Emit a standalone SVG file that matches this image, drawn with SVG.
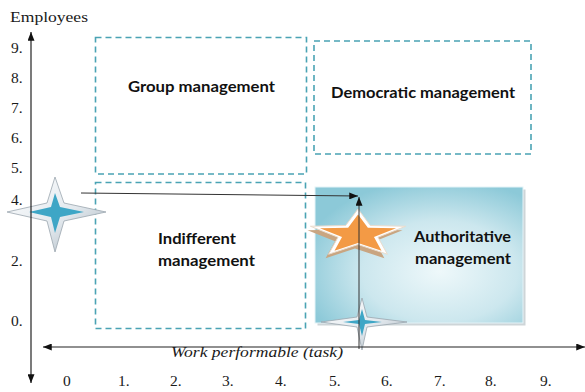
<svg xmlns="http://www.w3.org/2000/svg" width="585" height="392" viewBox="0 0 585 392">
<style>
.dash{fill:none;stroke:#4aa3b4;stroke-width:1.6;stroke-dasharray:6 4}
.lbl{font-family:Lato,"Open Sans","Liberation Sans",sans-serif;font-weight:700;font-size:15px;fill:#111}
.num{font-family:"Liberation Serif","Times New Roman",serif;font-size:15.5px;fill:#1a1a1a}
.ax{stroke:#222;stroke-width:1.2;fill:none}
.con{stroke:#333;stroke-width:1;fill:none}
</style>
<defs>
<marker id="ah" viewBox="0 0 10 8" refX="10" refY="4" markerWidth="9" markerHeight="7" markerUnits="userSpaceOnUse" orient="auto">
<path d="M0,0 L10,4 L0,8 z" fill="#111"/>
</marker>
<marker id="ahs" viewBox="0 0 10 8" refX="10" refY="4" markerWidth="9" markerHeight="7" markerUnits="userSpaceOnUse" orient="auto-start-reverse">
<path d="M0,0 L10,4 L0,8 z" fill="#111"/>
</marker>
<radialGradient id="authG" cx="0.6" cy="0.62" r="0.68">
<stop offset="0" stop-color="#eef8fa"/>
<stop offset="0.55" stop-color="#cce7ee"/>
<stop offset="1" stop-color="#8cc9d8"/>
</radialGradient>
<linearGradient id="starG" x1="0" y1="0" x2="1" y2="1">
<stop offset="0" stop-color="#ffffff"/>
<stop offset="0.55" stop-color="#e3e9ee"/>
<stop offset="1" stop-color="#a3b0ba"/>
</linearGradient>
<polygon id="pent" points="0,-25 12.35,-8.49 47.55,-7.73 19.97,3.24 29.4,20.23 0,10.5 -29.4,20.23 -19.97,3.24 -47.55,-7.73 -12.35,-8.49"/>
</defs>

<g id="group-management">
<rect class="dash" x="95.5" y="37.5" width="211" height="136.5"/>
<text class="lbl" x="128" y="92" textLength="147" lengthAdjust="spacingAndGlyphs">Group management</text>
</g>
<g id="democratic-management">
<rect class="dash" x="314" y="41" width="217" height="113"/>
<text class="lbl" x="331" y="98" textLength="184" lengthAdjust="spacingAndGlyphs">Democratic management</text>
</g>
<g id="indifferent-management">
<rect class="dash" x="95.5" y="182.5" width="210" height="146"/>
<text class="lbl" x="158" y="244" textLength="78" lengthAdjust="spacingAndGlyphs">Indifferent</text>
<text class="lbl" x="158" y="266" textLength="97" lengthAdjust="spacingAndGlyphs">management</text>
</g>
<g id="authoritative-management">
<rect x="317.5" y="189.5" width="208" height="136" fill="#b9c3c8" opacity="0.7"/>
<rect x="315" y="187" width="208" height="136" fill="url(#authG)" stroke="#e4f3f7" stroke-width="1"/>
<text class="lbl" x="414" y="242" textLength="97" lengthAdjust="spacingAndGlyphs">Authoritative</text>
<text class="lbl" x="415" y="264" textLength="96" lengthAdjust="spacingAndGlyphs">management</text>
</g>

<g id="star-left">
<path d="M7,212 L47,203 L55,177 L64,203 L106,212 L64,221 L55,252 L47,221 Z" fill="url(#starG)" stroke="#9aa6ae" stroke-width="0.8"/>
<path d="M29,212 L51,207 L55,193 L60,207 L84,212 L60,217 L55,233 L51,217 Z" fill="#3ea6c6"/>
</g>
<g id="star-bottom">
<path d="M321,322 L357,317 L362,298 L367,317 L407,322 L367,327 L362,350 L357,327 Z" fill="url(#starG)" stroke="#9aa6ae" stroke-width="0.8"/>
<path d="M343,322 L359,320 L362,309 L365,320 L382,322 L365,324 L362,336 L359,324 Z" fill="#3ea6c6"/>
</g>
<g id="star-orange">
<use href="#pent" transform="translate(355,238)" fill="#c9a581"/>
<use href="#pent" transform="translate(358,234)" fill="#ffffff" stroke="#eadccd" stroke-width="1"/>
<use href="#pent" transform="translate(358,234.5) scale(0.8)" fill="#f39a45"/>
</g>

<g id="connectors">
<path class="con" d="M81,193 L358,196" marker-end="url(#ah)"/>
<path class="con" d="M359,349 L359,197" marker-end="url(#ah)"/>
</g>

<g id="axes">
<path class="ax" d="M31,32 L31,383" marker-start="url(#ahs)" marker-end="url(#ah)"/>
<path class="ax" d="M43,347 L585,347" marker-start="url(#ahs)" marker-end="url(#ah)"/>
<text class="num" x="10" y="22" textLength="78" lengthAdjust="spacingAndGlyphs">Employees</text>
<text class="num" x="171" y="357" font-style="italic" textLength="172" lengthAdjust="spacingAndGlyphs">Work performable (task)</text>
<text class="num" x="11" y="53">9.</text>
<text class="num" x="11" y="83">8.</text>
<text class="num" x="11" y="113">7.</text>
<text class="num" x="11" y="143">6.</text>
<text class="num" x="11" y="173">5.</text>
<text class="num" x="11" y="205">4.</text>
<text class="num" x="11" y="266">2.</text>
<text class="num" x="11" y="326">0.</text>
<text class="num" x="63" y="386">0</text>
<text class="num" x="118" y="386">1.</text>
<text class="num" x="170" y="386">2.</text>
<text class="num" x="222" y="386">3.</text>
<text class="num" x="275" y="386">4.</text>
<text class="num" x="329" y="386">5.</text>
<text class="num" x="381" y="386">6.</text>
<text class="num" x="434" y="386">7.</text>
<text class="num" x="485" y="386">8.</text>
<text class="num" x="540" y="386">9.</text>
</g>
</svg>
